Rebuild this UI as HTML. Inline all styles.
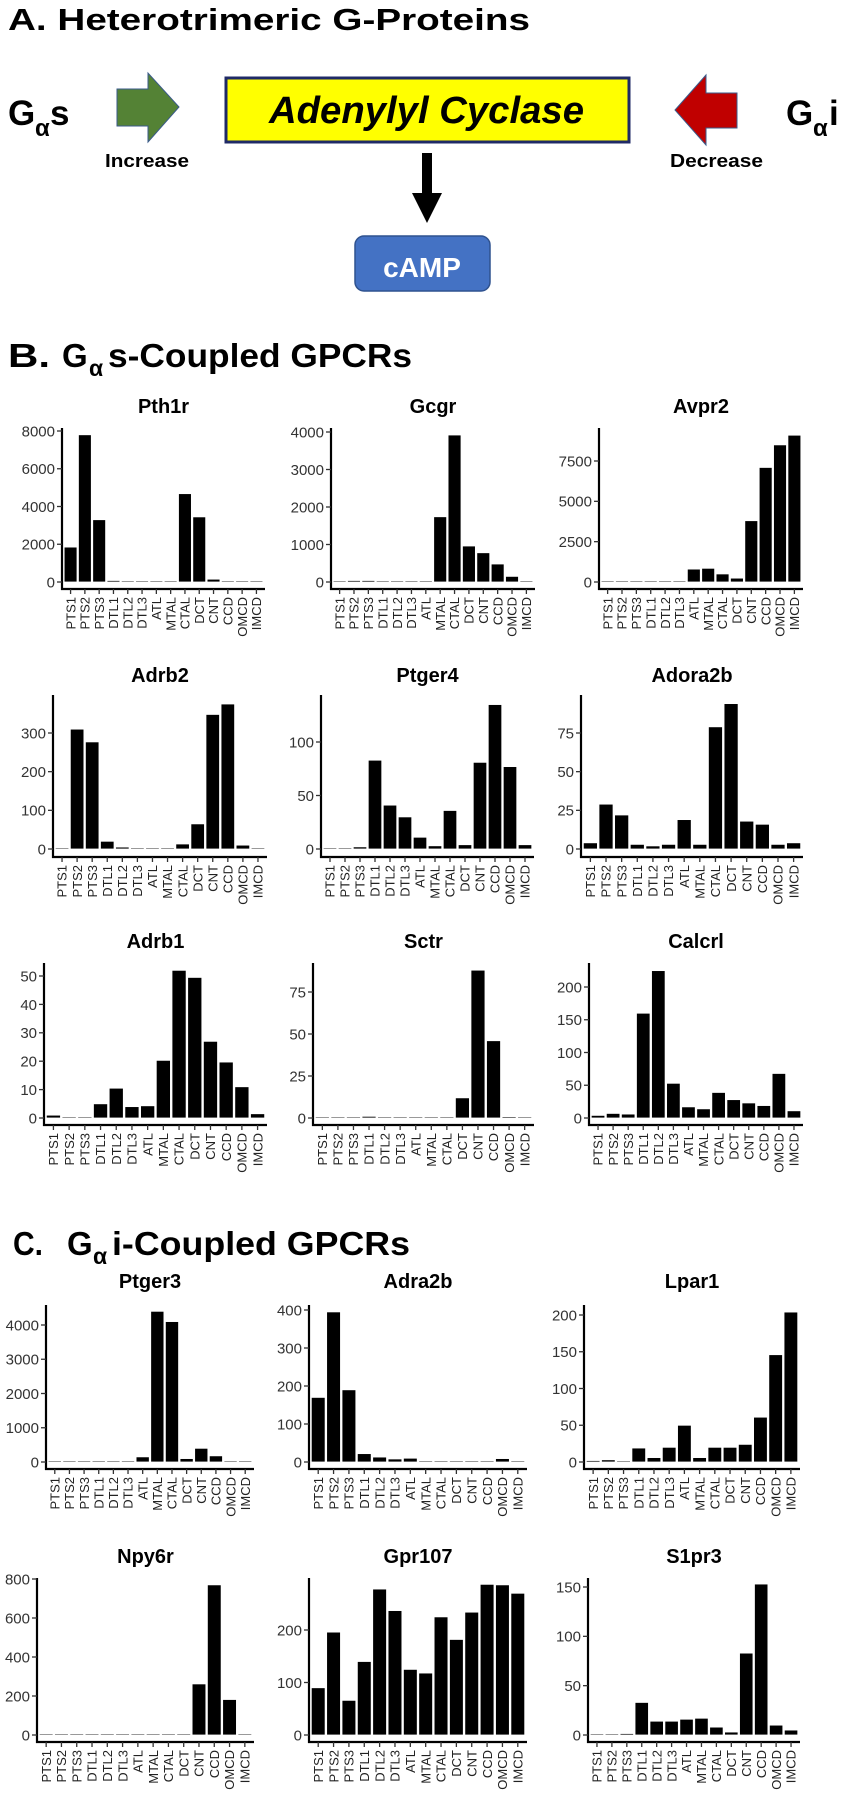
<!DOCTYPE html>
<html><head><meta charset="utf-8"><style>
html,body{margin:0;padding:0;background:#fff}
svg{display:block}
.tk{font-family:"Liberation Sans",Arial,sans-serif;font-size:15px;fill:#333}
.xl{font-family:"Liberation Sans",Arial,sans-serif;font-size:13px;fill:#222}
.ttl{font-family:"Liberation Sans",Arial,sans-serif;font-size:20px;font-weight:bold;fill:#000}
.big{font-family:"Liberation Sans",Arial,sans-serif;font-weight:bold;fill:#000}
</style></head><body>
<svg id="fig" width="844" height="1800" viewBox="0 0 844 1800" xmlns="http://www.w3.org/2000/svg">
<!-- Section A -->
<text class="big" x="8" y="30" font-size="31" textLength="522" lengthAdjust="spacingAndGlyphs">A.  Heterotrimeric G-Proteins</text>
<g>
<text class="big" x="8" y="125" font-size="35">G</text>
<text class="big" x="35" y="136" font-size="24">α</text>
<text class="big" x="50" y="125" font-size="35">s</text>
</g>
<polygon points="117,89 148,89 148,73 179,107 148,142 148,126 117,126" fill="#548235" stroke="#3a5a8a" stroke-width="1"/>
<text class="big" x="105" y="167" font-size="18" font-weight="normal" textLength="84" lengthAdjust="spacingAndGlyphs">Increase</text>
<rect x="226" y="78" width="403" height="64" fill="#ffff00" stroke="#1f2a66" stroke-width="3"/>
<text class="big" x="269" y="123" font-size="38" font-style="italic" textLength="315" lengthAdjust="spacingAndGlyphs">Adenylyl Cyclase</text>
<polygon points="737,93 706,93 706,75 675,110 706,145 706,128 737,128" fill="#c00000" stroke="#3a5a8a" stroke-width="1"/>
<text class="big" x="670" y="167" font-size="18" font-weight="normal" textLength="93" lengthAdjust="spacingAndGlyphs">Decrease</text>
<g>
<text class="big" x="786" y="125" font-size="35">G</text>
<text class="big" x="813" y="136" font-size="24">α</text>
<text class="big" x="829" y="125" font-size="35">i</text>
</g>
<polygon points="422,153 432,153 432,193 442,193 427,223 412,193 422,193" fill="#000"/>
<rect x="355" y="236" width="135" height="55" rx="9" fill="#4472c4" stroke="#2f528f" stroke-width="1.5"/>
<text x="422" y="277" text-anchor="middle" font-family="Liberation Sans, Arial, sans-serif" font-weight="bold" font-size="28" fill="#fff">cAMP</text>
<!-- Section titles -->
<g>
<text class="big" x="8" y="367" font-size="33" textLength="42" lengthAdjust="spacingAndGlyphs">B.</text>
<text class="big" x="62" y="367" font-size="33">G</text>
<text class="big" x="89" y="376" font-size="23">α</text>
<text class="big" x="108" y="367" font-size="33" textLength="304" lengthAdjust="spacingAndGlyphs">s-Coupled GPCRs</text>
</g>
<g>
<text class="big" x="13" y="1255" font-size="33" textLength="30" lengthAdjust="spacingAndGlyphs">C.</text>
<text class="big" x="67" y="1255" font-size="33">G</text>
<text class="big" x="93" y="1264" font-size="23">α</text>
<text class="big" x="112" y="1255" font-size="33" textLength="298" lengthAdjust="spacingAndGlyphs">i-Coupled GPCRs</text>
</g>
<g id="charts"></g>
</svg>
<script>
const categories = ["PTS1","PTS2","PTS3","DTL1","DTL2","DTL3","ATL","MTAL","CTAL","DCT","CNT","CCD","OMCD","IMCD"];
const pth1rValues = [1850,7800,3300,80,30,30,30,30,4680,3450,150,30,30,30];
const pth1rTicks = [0,2000,4000,6000,8000];
const gcgrValues = [10,40,40,20,20,20,10,1740,3920,960,780,480,150,20];
const gcgrTicks = [0,1000,2000,3000,4000];
const avpr2Values = [20,30,20,30,30,30,800,850,500,240,3800,7100,8500,9100];
const avpr2Ticks = [0,2500,5000,7500];
const adrb2Values = [3,310,277,20,5,1,3,3,13,65,348,375,10,3];
const adrb2Ticks = [0,100,200,300];
const ptger4Values = [1,1,2,83,41,30,11,3,36,4,81,135,77,4];
const ptger4Ticks = [0,50,100];
const adora2bValues = [4,29,22,3,2,3,19,3,79,94,18,16,3,4];
const adora2bTicks = [0,25,50,75];
const adrb1Values = [1,0.3,0.1,5,10.5,4,4.3,20.3,52,49.5,27,19.7,11,1.5];
const adrb1Ticks = [0,10,20,30,40,50];
const sctrValues = [0.2,0.3,0.2,1,0.5,0.5,0.5,0.5,0.5,12,88,46,0.8,0.3];
const sctrTicks = [0,25,50,75];
const calcrlValues = [4,7,6,160,225,53,17,14,39,28,23,19,68,11];
const calcrlTicks = [0,50,100,150,200];
const ptger3Values = [30,10,5,30,15,15,150,4400,4100,100,400,180,10,10];
const ptger3Ticks = [0,1000,2000,3000,4000];
const adra2bValues = [170,395,190,22,13,8,10,2,3,3,2,3,9,3];
const adra2bTicks = [0,100,200,300,400];
const lpar1Values = [2,3,0.5,19,6,20,50,6,20,20,24,61,146,204];
const lpar1Ticks = [0,50,100,150,200];
const npy6rValues = [1,1,1,5,5,1,1,1,1,1,262,770,182,1];
const npy6rTicks = [0,200,400,600,800];
const gpr107Values = [90,196,66,140,278,237,125,118,225,182,234,287,286,270];
const gpr107Ticks = [0,100,200];
const s1pr3Values = [1,1,1.5,33,14,14,16,17,8,3,83,153,10,5];
const s1pr3Ticks = [0,50,100,150];

// layout: name, values, ticks, axisX, rightX, titleY, topY, zeroY, axisLineY, tickValue, tickPixelY
const panels = [
 ["Pth1r",pth1rValues,pth1rTicks,62,265,413,428,582,589,8000,431],
 ["Gcgr",gcgrValues,gcgrTicks,331,535,413,428,582,589,4000,432],
 ["Avpr2",avpr2Values,avpr2Ticks,599,803,413,428,582,589,7500,461],
 ["Adrb2",adrb2Values,adrb2Ticks,53,267,682,695,849,857,300,733],
 ["Ptger4",ptger4Values,ptger4Ticks,321,534,682,695,849,857,100,742],
 ["Adora2b",adora2bValues,adora2bTicks,581,803,682,695,849,857,75,733],
 ["Adrb1",adrb1Values,adrb1Ticks,44,267,948,963,1118,1125,50,976],
 ["Sctr",sctrValues,sctrTicks,313,534,948,963,1118,1125,50,1034],
 ["Calcrl",calcrlValues,calcrlTicks,589,803,948,963,1118,1125,200,987],
 ["Ptger3",ptger3Values,ptger3Ticks,46,254,1288,1305,1462,1469,4000,1325],
 ["Adra2b",adra2bValues,adra2bTicks,309,527,1288,1305,1462,1469,400,1310],
 ["Lpar1",lpar1Values,lpar1Ticks,584,800,1288,1305,1462,1469,200,1315],
 ["Npy6r",npy6rValues,npy6rTicks,37,254,1563,1578,1735,1742,800,1579],
 ["Gpr107",gpr107Values,gpr107Ticks,309,527,1563,1578,1735,1742,200,1630],
 ["S1pr3",s1pr3Values,s1pr3Ticks,588,800,1563,1578,1735,1742,150,1587]
];
const NS="http://www.w3.org/2000/svg";
const root=document.getElementById("charts");
function mk(tag,attrs,parent){const e=document.createElementNS(NS,tag);for(const k in attrs)e.setAttribute(k,attrs[k]);parent.appendChild(e);return e;}
panels.forEach(p=>{
  const [name,vals,ticks,ax,rx,ty,top,zy,aly,tv,tpy]=p;
  const g=mk("g",{},root);
  
  
  const ppu=(zy-tpy)/tv;
  const yScale=v=>zy-v*ppu;
  const unit=(rx-ax)/14.2;
  const xScale=i=>ax+unit*(0.6+i);
  const t=mk("text",{x:(ax+rx)/2,y:ty,"text-anchor":"middle",class:"ttl"},g);
  t.textContent=name;
  
  
  vals.forEach((v,i)=>{
    const h=Math.max(v*ppu,1.2);
    const b=mk("rect",{x:xScale(i)-unit*0.45,y:zy-h,width:unit*0.9,height:h,fill:"#000",stroke:"#fff","stroke-width":"0.8"},g);
    
    
  });
  const ya=mk("line",{x1:ax,y1:top,x2:ax,y2:aly+1,stroke:"#000","stroke-width":"2.2"},g);
  
  
  const xa=mk("line",{x1:ax-1,y1:aly,x2:rx,y2:aly,stroke:"#000","stroke-width":"2.2"},g);
  
  
  ticks.forEach(v=>{
    const y=yScale(v);
    mk("line",{x1:ax-5,y1:y,x2:ax,y2:y,stroke:"#333","stroke-width":"1.3"},g);
    const l=mk("text",{x:ax-7,y:y,dy:"0.36em","text-anchor":"end",class:"tk"},g);
    l.textContent=String(v);
    
    
  });
  categories.forEach((c,i)=>{
    const x=xScale(i);
    mk("line",{x1:x,y1:aly,x2:x,y2:aly+5,stroke:"#333","stroke-width":"1.3"},g);
    const l=mk("text",{x:0,y:0,dy:"0.36em","text-anchor":"end",class:"xl",transform:"translate("+x+","+(aly+8)+") rotate(-90)"},g);
    l.textContent=c;
    
    
  });
});
</script>
</body></html>
